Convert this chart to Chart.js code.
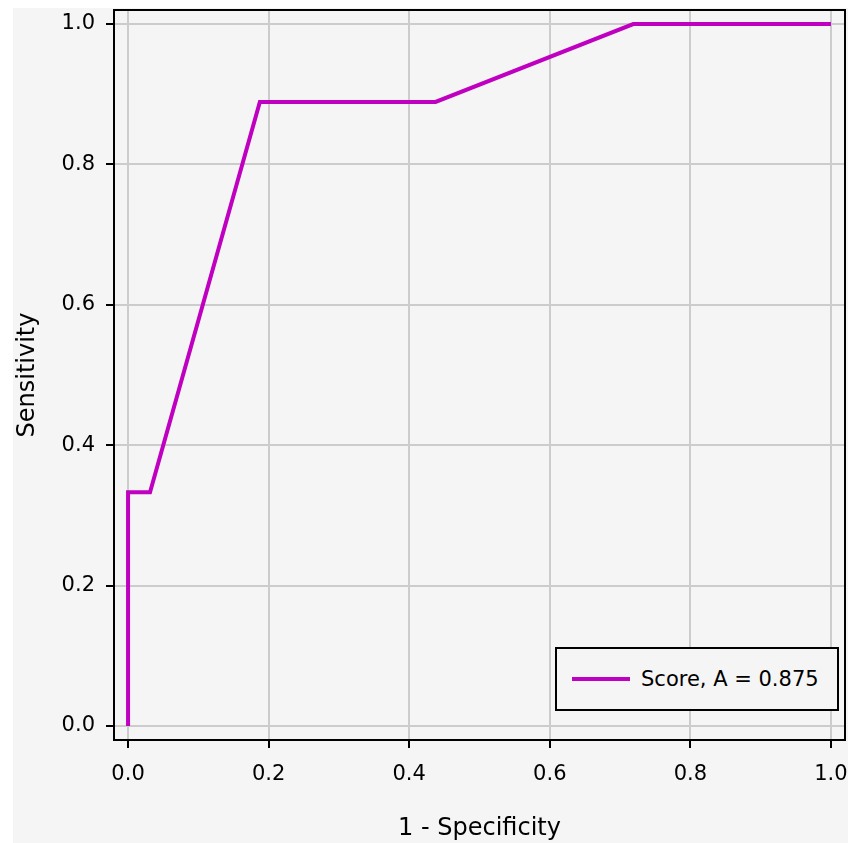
<!DOCTYPE html>
<html>
<head>
<meta charset="utf-8">
<script src="https://cdn.jsdelivr.net/npm/chart.js@4.4.1/dist/chart.umd.min.js"></script>
<style>
  html, body { margin: 0; padding: 0; background: #ffffff; }
  #wrap { position: absolute; left: 13px; top: 8px; width: 835px; height: 835px; background: #f5f5f5; }
  #legendBox {
    position: absolute; left: 542px; top: 639px; width: 280px; height: 60px;
    border: 2px solid #000; background: #f5f5f5;
    font-family: "DejaVu Sans", sans-serif; font-size: 21px; color: #000;
    display: flex; align-items: center;
  }
  #legendBox .swatch { width: 58px; height: 4px; margin-left: 15px; margin-right: 11px; }
</style>
</head>
<body>
<div id="wrap">
  <canvas id="rocChart" width="835" height="835"></canvas>
  <div id="legendBox"></div>
</div>
<script>
// ROC curve points
const fpr = [0, 0, 0.03125, 0.1875, 0.4375, 0.71875, 1];
const tpr = [0, 0.333, 0.333, 0.889, 0.889, 1, 1];
const xTicks = [0, 0.2, 0.4, 0.6, 0.8, 1.0];
const yTicks = [0, 0.2, 0.4, 0.6, 0.8, 1.0];
const seriesLabel = 'Score, A = 0.875';
const lineColor = '#c000c0';

const points = fpr.map((x, i) => ({ x: x, y: tpr[i] }));

// full black frame round the plot area
const frame = {
    id: 'frame',
    afterDraw(chart) {
        const a = chart.chartArea;
        const ctx = chart.ctx;
        ctx.save();
        ctx.strokeStyle = '#000';
        ctx.lineWidth = 2;
        ctx.strokeRect(a.left, a.top, a.right - a.left, a.bottom - a.top);
        ctx.restore();
    }
};

const tickFont = { family: 'DejaVu Sans', size: 21 };
const titleFont = { family: 'DejaVu Sans', size: 24 };

new Chart(document.getElementById('rocChart').getContext('2d'), {
    type: 'scatter',
    data: {
        datasets: [{
            label: seriesLabel,
            data: points,
            showLine: true,
            borderColor: lineColor,
            backgroundColor: lineColor,
            borderWidth: 4,
            pointRadius: 0,
            tension: 0
        }]
    },
    options: {
        responsive: false,
        animation: false,
        layout: { padding: { top: 2, right: 3, left: 0, bottom: 0 } },
        plugins: {
            legend: { display: false },
            tooltip: { enabled: false }
        },
        scales: {
            x: {
                type: 'linear',
                min: -0.02,
                max: 1.02,
                afterBuildTicks: (axis) => { axis.ticks = xTicks.map(v => ({ value: v })); },
                afterFit: (axis) => { axis.height = 103; axis.paddingLeft = 0; axis.paddingRight = 0; },
                ticks: {
                    callback: (v) => Number(v).toFixed(1),
                    font: tickFont,
                    color: '#000',
                    padding: 14,
                    maxRotation: 0
                },
                grid: { color: '#cccccc', lineWidth: 2, tickColor: '#000', tickLength: 8, tickWidth: 2 },
                border: { display: true, color: '#000', width: 2 },
                title: { display: true, text: '1 - Specificity', font: titleFont, color: '#000', padding: { top: 0, bottom: 0 } }
            },
            y: {
                type: 'linear',
                min: -0.02,
                max: 1.02,
                afterBuildTicks: (axis) => { axis.ticks = yTicks.map(v => ({ value: v })); },
                afterFit: (axis) => { axis.width = 101; axis.paddingTop = 0; axis.paddingBottom = 0; },
                ticks: {
                    callback: (v) => Number(v).toFixed(1),
                    font: tickFont,
                    color: '#000',
                    padding: 11
                },
                grid: { color: '#cccccc', lineWidth: 2, tickColor: '#000', tickLength: 8, tickWidth: 2 },
                border: { display: true, color: '#000', width: 2 },
                title: { display: true, text: 'Sensitivity', font: titleFont, color: '#000', padding: { top: 0, bottom: 0 } }
            }
        }
    },
    plugins: [frame]
});

// legend built from the dataset label
const legendBox = document.getElementById('legendBox');
const sw = document.createElement('span');
sw.className = 'swatch';
sw.style.background = lineColor;
const txt = document.createElement('span');
txt.textContent = seriesLabel;
legendBox.appendChild(sw);
legendBox.appendChild(txt);
</script>
</body>
</html>
